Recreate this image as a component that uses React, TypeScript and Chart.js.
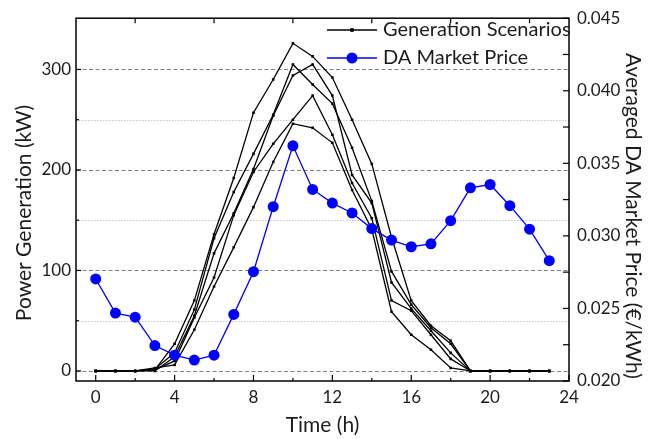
import React, { useEffect, useRef } from 'react';
import { Chart, registerables } from 'chart.js';

Chart.register(...registerables);

// ---- data ----
const hours = [0, 1, 2, 3, 4, 5, 6, 7, 8, 9, 10, 11, 12, 13, 14, 15, 16, 17, 18, 19, 20, 21, 22, 23];
const scenario1 = [0, 0, 0, 1, 27, 70, 136, 192, 257, 290, 326, 313, 292, 250, 206, 133, 70, 45, 30, 0, 0, 0, 0, 0];
const scenario2 = [0, 0, 0, 2, 18, 61, 132, 178, 216, 255, 305, 285, 266, 222, 169, 99, 66, 43, 27, 0, 0, 0, 0, 0];
const scenario3 = [0, 0, 0, 0, 14, 55, 117, 157, 201, 254, 294, 305, 274, 195, 167, 88, 62, 40, 18, 0, 0, 0, 0, 0];
const scenario4 = [0, 0, 0, 1, 10, 53, 93, 155, 198, 226, 250, 274, 235, 187, 152, 70, 60, 36, 12, 0, 0, 0, 0, 0];
const scenario5 = [0, 0, 0, 3, 6, 41, 84, 123, 163, 208, 246, 242, 227, 180, 141, 59, 36, 21, 3, 0, 0, 0, 0, 0];
const scenarios = [scenario1, scenario2, scenario3, scenario4, scenario5];
const daPrice = [0.02703, 0.02468, 0.0244, 0.02244, 0.02178, 0.02144, 0.02178, 0.02459, 0.02753, 0.03201, 0.03621, 0.0332, 0.03226, 0.03158, 0.0305, 0.02971, 0.02925, 0.02945, 0.03105, 0.03331, 0.03354, 0.03208, 0.03046, 0.02829];

const xTicks = [0, 4, 8, 12, 16, 20, 24];
const xMinorTicks = [2, 6, 10, 14, 18, 22];
const yTicks = [0, 100, 200, 300];
const yMinorTicks = [50, 150, 250];
const y1Ticks = [0.02, 0.025, 0.03, 0.035, 0.04, 0.045];
const y1MinorTicks = [0.0225, 0.0275, 0.0325, 0.0375, 0.0425];

const xTitle = 'Time (h)';
const yTitle = 'Power Generation (kW)';
const y1Title = 'Averaged DA Market Price (€/kWh)';
const legendScenarios = 'Generation Scenarios';
const legendPrice = 'DA Market Price';

const FONT = 'Lato, "Open Sans", sans-serif';
const TEXT = '#1c1c1c';
const BLUE = '#0000ff';

const framePlugin = {
  id: 'framePlugin',
  beforeDatasetsDraw(chart: any) {
    const { ctx, chartArea: a, scales } = chart;
    const y = scales.y;
    ctx.save();
    ctx.lineWidth = 1;
    ctx.strokeStyle = '#c4c4c4';
    ctx.setLineDash([1.5, 1.5]);
    for (const v of yMinorTicks) {
      const py = Math.round(y.getPixelForValue(v)) + 0.5;
      ctx.beginPath();
      ctx.moveTo(a.left, py);
      ctx.lineTo(a.right, py);
      ctx.stroke();
    }
    ctx.strokeStyle = '#808080';
    ctx.setLineDash([4, 2.5]);
    for (const v of yTicks) {
      const py = Math.round(y.getPixelForValue(v)) + 0.5;
      ctx.beginPath();
      ctx.moveTo(a.left, py);
      ctx.lineTo(a.right, py);
      ctx.stroke();
    }
    ctx.restore();
  },
  afterDatasetsDraw(chart: any) {
    const { ctx, chartArea: a, scales } = chart;
    const x = scales.x;
    const y = scales.y;
    const y1 = scales.y1;
    ctx.save();
    ctx.setLineDash([]);
    ctx.strokeStyle = '#000';
    ctx.lineWidth = 1.5;
    ctx.strokeRect(a.left, a.top, a.right - a.left, a.bottom - a.top);
    ctx.lineWidth = 1.2;
    const line = (x0: number, y0: number, x1: number, yy1: number) => {
      ctx.beginPath();
      ctx.moveTo(x0, y0);
      ctx.lineTo(x1, yy1);
      ctx.stroke();
    };
    // bottom ticks
    for (const v of xTicks) {
      const px = x.getPixelForValue(v);
      line(px, a.bottom, px, a.bottom - 6);
    }
    for (const v of xMinorTicks) {
      const px = x.getPixelForValue(v);
      line(px, a.bottom, px, a.bottom - 3);
      line(px, a.top, px, a.top + 5);
    }
    // left ticks
    for (const v of yTicks) {
      const py = y.getPixelForValue(v);
      line(a.left, py, a.left + 5, py);
    }
    for (const v of yMinorTicks) {
      const py = y.getPixelForValue(v);
      line(a.left, py, a.left + 3, py);
    }
    // right ticks
    for (const v of [...y1Ticks, ...y1MinorTicks]) {
      const py = y1.getPixelForValue(v);
      line(a.right, py, a.right - 6, py);
    }

    // vertical axis titles
    ctx.fillStyle = TEXT;
    ctx.font = `21px ${FONT}`;
    ctx.textAlign = 'center';
    ctx.textBaseline = 'middle';
    ctx.save();
    ctx.translate(24, 213);
    ctx.rotate(-Math.PI / 2);
    ctx.fillText(yTitle, 0, 0);
    ctx.restore();
    ctx.save();
    ctx.translate(633, 216);
    ctx.rotate(Math.PI / 2);
    ctx.fillText(y1Title, 0, 0);
    ctx.restore();

    // legend
    const lx0 = 327;
    const lx1 = 377;
    const r1 = 30;
    const r2 = 58;
    ctx.strokeStyle = '#000';
    ctx.lineWidth = 1.3;
    line(lx0, r1, lx1, r1);
    ctx.fillStyle = '#000';
    ctx.fillRect((lx0 + lx1) / 2 - 1.8, r1 - 1.8, 3.6, 3.6);
    ctx.strokeStyle = BLUE;
    line(lx0, r2, lx1, r2);
    ctx.fillStyle = BLUE;
    ctx.beginPath();
    ctx.arc((lx0 + lx1) / 2, r2, 5.5, 0, Math.PI * 2);
    ctx.fill();
    ctx.fillStyle = TEXT;
    ctx.font = `20px ${FONT}`;
    ctx.textAlign = 'left';
    ctx.textBaseline = 'middle';
    ctx.fillText(legendScenarios, 383, r1);
    ctx.fillText(legendPrice, 383, r2);
    ctx.restore();
  },
};

export default function App() {
  const canvasRef = useRef<HTMLCanvasElement | null>(null);

  useEffect(() => {
    const canvas = canvasRef.current;
    if (!canvas) return;
    const blackSets = scenarios.map((s, i) => ({
      label: `Scenario ${i + 1}`,
      data: hours.map((h, j) => ({ x: h, y: s[j] })),
      yAxisID: 'y',
      borderColor: '#000',
      borderWidth: 1.3,
      pointStyle: 'rect',
      pointRadius: 1.8,
      pointBackgroundColor: '#000',
      pointBorderWidth: 0,
      tension: 0,
      order: 1,
    }));
    const chart = new Chart(canvas, {
      type: 'line',
      data: {
        datasets: [
          {
            label: legendPrice,
            data: hours.map((h, j) => ({ x: h, y: daPrice[j] })),
            yAxisID: 'y1',
            borderColor: BLUE,
            borderWidth: 1.3,
            pointStyle: 'circle',
            pointRadius: 5.5,
            pointBackgroundColor: BLUE,
            pointBorderWidth: 0,
            tension: 0,
            order: 0,
          },
          ...blackSets,
        ] as any,
      },
      options: {
        responsive: false,
        animation: false,
        devicePixelRatio: 1,
        layout: { padding: { top: 16, left: 0, right: 0, bottom: 0 } },
        plugins: { legend: { display: false }, tooltip: { enabled: false } },
        scales: {
          x: {
            type: 'linear',
            min: -1,
            max: 24,
            afterBuildTicks: (axis: any) => {
              axis.ticks = xTicks.map((v) => ({ value: v }));
            },
            afterFit: (scale: any) => {
              scale.height = 58;
            },
            grid: { display: false, drawTicks: false },
            border: { display: false },
            ticks: { color: TEXT, font: { family: FONT, size: 17 }, padding: 6, maxRotation: 0 },
            title: { display: true, text: xTitle, color: TEXT, font: { family: FONT, size: 21 }, padding: { top: 0, bottom: 1 } },
          },
          y: {
            type: 'linear',
            position: 'left',
            min: -10,
            max: 351,
            afterBuildTicks: (axis: any) => {
              axis.ticks = yTicks.map((v) => ({ value: v }));
            },
            afterFit: (scale: any) => {
              scale.width = 76;
            },
            grid: { display: false, drawTicks: false },
            border: { display: false },
            ticks: { color: TEXT, font: { family: FONT, size: 17 }, padding: 5 },
          },
          y1: {
            type: 'linear',
            position: 'right',
            min: 0.02,
            max: 0.045,
            afterBuildTicks: (axis: any) => {
              axis.ticks = y1Ticks.map((v) => ({ value: v }));
            },
            afterFit: (scale: any) => {
              scale.width = 99;
            },
            grid: { display: false, drawTicks: false },
            border: { display: false },
            ticks: {
              color: TEXT,
              font: { family: FONT, size: 17 },
              padding: 8,
              callback: (v: any) => Number(v).toFixed(3),
            },
          },
        },
      } as any,
      plugins: [framePlugin],
    });
    return () => chart.destroy();
  }, []);

  return (
    <div style={{ position: 'fixed', left: 0, top: 0, width: 668, height: 439, background: '#fff' }}>
      <canvas ref={canvasRef} width={668} height={439} style={{ width: 668, height: 439, display: 'block' }} />
    </div>
  );
}
